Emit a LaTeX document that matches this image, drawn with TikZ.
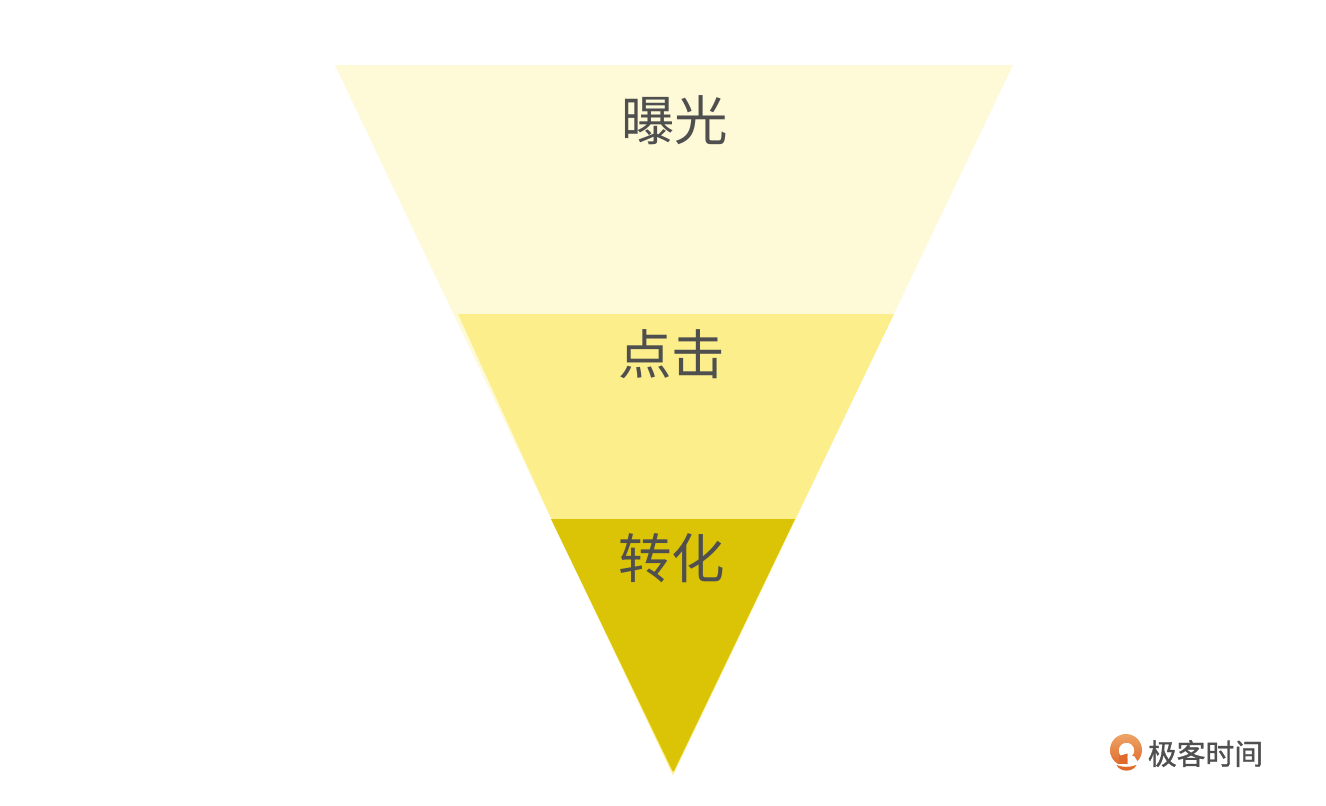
\documentclass[tikz,border=0pt]{standalone}
\usepackage{fontspec}
\newfontfamily\cjk{Noto Sans CJK SC}
\definecolor{paley}{HTML}{FEF9D6}
\definecolor{midy}{HTML}{FCEE8A}
\definecolor{darky}{HTML}{DBC406}
\definecolor{txt}{HTML}{4F4F4F}
\definecolor{logotop}{HTML}{EDA466}
\definecolor{logobot}{HTML}{DF6A2C}
\tikzset{
  band/.style={draw=none},
  lbl/.style={inner sep=0pt,text=txt,font=\cjk\fontsize{53.5}{54}\selectfont},
  logotext/.style={inner sep=0pt,text=txt,draw=none,font=\cjk\fontsize{28.8}{29}\selectfont}
}
\begin{document}
\begin{tikzpicture}[x=1pt,y=-1pt]
\useasboundingbox (0,0) rectangle (1326,806);
\fill[white] (0,0) rectangle (1326,806);
\fill[paley,band] (335,65) -- (1013,65) -- (673,775) -- cycle;
\fill[midy,band] (458,314) -- (894,314) -- (795.5,519) -- (673,775) -- (551.5,519) -- cycle;
\fill[darky,band] (551,519) -- (795,519) -- (674,771) -- (672.5,771) -- cycle;
\node[lbl] (expose) at (674.5,120) {\cjk 曝光};
\node[lbl] (click) at (671.5,354) {\cjk 点击};
\node[lbl] (convert) at (671.5,558) {\cjk 转化};
% logo
\shade[top color=logotop,bottom color=logobot,even odd rule]
  (1126,750) circle[radius=16] (1126.5,750.5) circle[radius=7.8];
\fill[logobot] (1119,756) -- (1127.5,753.5) -- (1127.5,764) -- (1119,764) -- cycle;
\fill[white] (1127.5,756.5) -- (1134,756) -- (1139,763.5) -- (1139,767) -- (1127.5,767) -- cycle;
\fill[white] (1108,764) rectangle (1144,767);
\fill[logobot] (1116.5,765) .. controls (1122,767.5) and (1130,767.5) .. (1136.5,765) .. controls (1133,772.5) and (1120,772.5) .. (1116.5,765) -- cycle;
\node[logotext] (brand) at (1205.5,753.5) {\cjk\addfontfeatures{FakeBold=1.2} 极客时间};
\end{tikzpicture}
\end{document}
